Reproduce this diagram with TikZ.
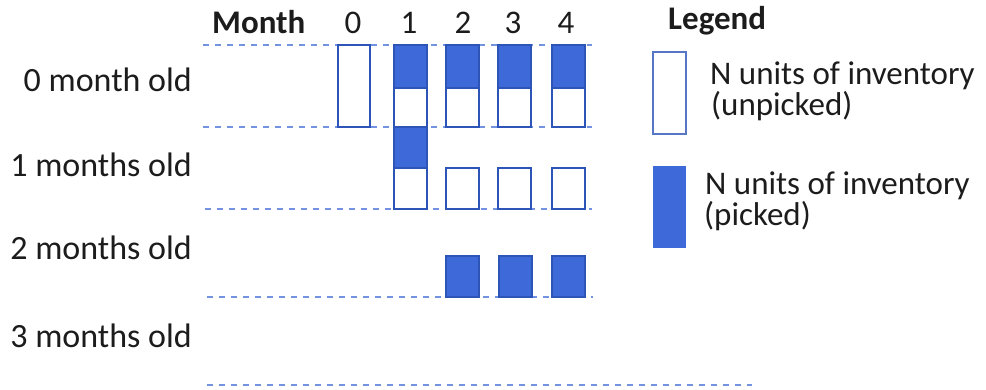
\documentclass[tikz,border=0pt]{standalone}
\usepackage{fontspec}
\setmainfont{Carlito}
\usetikzlibrary{positioning}
\definecolor{pickblue}{HTML}{3D6AD8}
\definecolor{edgeblue}{HTML}{2D55B8}
\definecolor{gridblue}{HTML}{7393E2}
\definecolor{inktext}{HTML}{1C1C1C}

\begin{document}
\begin{tikzpicture}[x=1pt,y=-1pt,font=\fontsize{33}{39}\selectfont,text=inktext,
 unpicked/.style={draw=edgeblue,line width=1.8pt,fill=white},
 picked/.style={draw=edgeblue,line width=1.8pt,fill=pickblue},
 rowline/.style={draw=gridblue,line width=1.3pt,dash pattern=on 6pt off 6pt},
 rowlabel/.style={anchor=base east,inner sep=0pt,font=\fontsize{34}{40}\selectfont},
 head/.style={anchor=base,inner sep=0pt},
 legtext/.style={anchor=base west,inner sep=0pt}]
\useasboundingbox (0,0) rectangle (986,390);
% dashed row separators
\draw[rowline] (203,45) -- (592,45);
\draw[rowline] (203,127) -- (592,127);
\draw[rowline] (205,209) -- (592,209);
\draw[rowline] (207,297) -- (593,297);
\draw[rowline] (207,385) -- (752,385);
% header
\node[head,font=\fontsize{33}{39}\selectfont\bfseries,anchor=base west] (month) at (212,34) {Month};
\foreach \m/\x in {0/353,1/409,2/463,3/513,4/566} \node[head] (m\m) at (\x,34) {\m};
% row labels
\node[rowlabel] (age0) at (192,92) {0 month old};
\node[rowlabel] (age1) at (192,177) {1 months old};
\node[rowlabel] (age2) at (192,260) {2 months old};
\node[rowlabel] (age3) at (192,347) {3 months old};
% inventory, month 0 old
\draw[unpicked] (338,45) rectangle (370,127);
\foreach \x in {394,446,498,552} {
  \draw[picked] (\x,45) rectangle (\x+33,88);
  \draw[unpicked] (\x,88) rectangle (\x+33,127);
}
% 1 month old
\draw[picked] (394,127) rectangle (427,168);
\draw[unpicked] (394,168) rectangle (427,209);
\foreach \x in {446,498,552} \draw[unpicked] (\x,168) rectangle (\x+33,209);
% 2 months old
\foreach \x in {446,499,552} \draw[picked] (\x,256) rectangle (\x+33,297);
% legend
\node[legtext,font=\fontsize{33}{39}\selectfont\bfseries] (legend) at (668,30) {Legend};
\draw[draw=edgeblue!80,line width=1.4pt,fill=white] (653,52) rectangle (686,134);
\node[legtext] (unpA) at (710,85) {N units of inventory};
\node[legtext] (unpB) at (711,116) {(unpicked)};
\fill[pickblue] (653,166) rectangle (686,248);
\node[legtext] (pkA) at (705,195) {N units of inventory};
\node[legtext] (pkB) at (704,226) {(picked)};
\end{tikzpicture}
\end{document}
